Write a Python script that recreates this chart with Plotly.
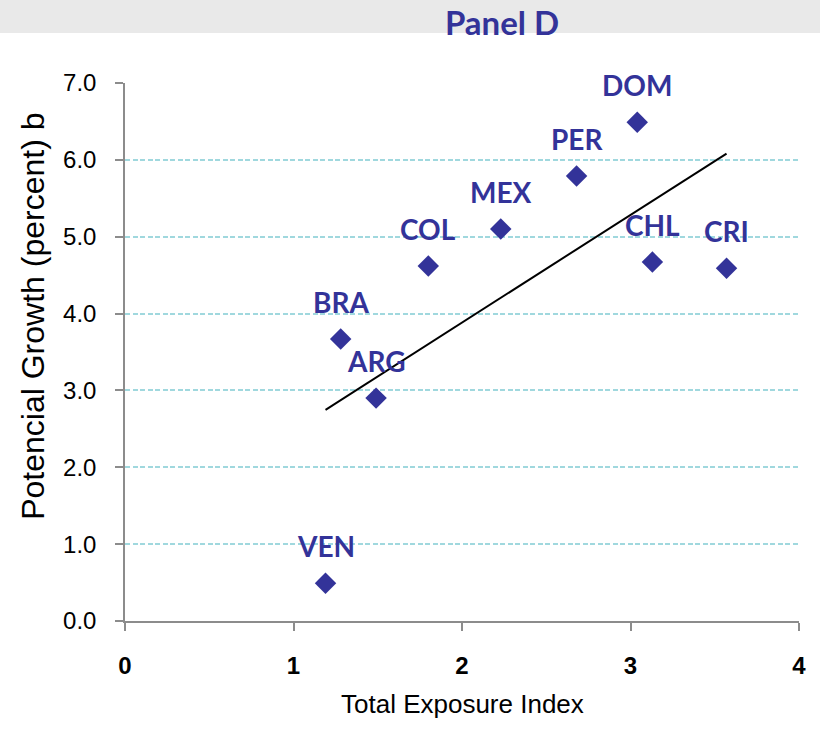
import numpy as np
import plotly.graph_objects as go

countries = ["VEN", "BRA", "ARG", "COL", "MEX", "PER", "DOM", "CHL", "CRI"]
exposure = [1.19, 1.28, 1.49, 1.80, 2.23, 2.68, 3.04, 3.13, 3.57]
growth = [0.49, 3.67, 2.90, 4.62, 5.10, 5.79, 6.49, 4.67, 4.59]
y_ticks = [0, 1, 2, 3, 4, 5, 6, 7]
x_ticks = [0, 1, 2, 3, 4]

BLUE = "#333399"
AXIS = "#8c8c8c"
GRID = "#a0d8de"

# linear trend line over the data range
slope, intercept = np.polyfit(exposure, growth, 1)
tx = [min(exposure), max(exposure)]
ty = [slope * v + intercept for v in tx]

fig = go.Figure()
fig.add_trace(go.Scatter(x=tx, y=ty, mode="lines",
                         line=dict(color="black", width=2), hoverinfo="skip",
                         showlegend=False))
fig.add_trace(go.Scatter(x=exposure, y=growth, mode="markers",
                         marker=dict(symbol="diamond", size=16.5, color=BLUE,
                                     line=dict(width=0)),
                         text=countries, showlegend=False))

annotations = []
for c, xv, yv in zip(countries, exposure, growth):
    annotations.append(dict(x=xv, y=yv, xref="x", yref="y", text=c,
                            showarrow=False, yanchor="middle", yshift=37,
                            font=dict(family="Lato, Open Sans, sans-serif",
                                      size=28, color=BLUE, weight="bold")))

# axis titles
annotations.append(dict(x=0.5, y=-0.155, xref="paper", yref="paper",
                        text="Total Exposure Index", showarrow=False,
                        xanchor="center", yanchor="middle",
                        font=dict(family="Liberation Sans, Arial, sans-serif",
                                  size=26, color="black")))
annotations.append(dict(x=-0.136, y=0.566, xref="paper", yref="paper",
                        text="Potencial Growth (percent) b", showarrow=False,
                        textangle=-90, xanchor="center", yanchor="middle",
                        font=dict(family="Liberation Sans, Arial, sans-serif",
                                  size=32, color="black")))

fig.update_layout(
    width=820, height=730,
    margin=dict(l=125, r=21, t=83, b=109),
    paper_bgcolor="white", plot_bgcolor="white",
    title=dict(text="Panel D", x=502 / 820, xanchor="center",
               y=1 - 23 / 730, yanchor="middle",
               font=dict(family="Lato, Open Sans, sans-serif", size=33,
                         color=BLUE, weight="bold")),
    shapes=[dict(type="rect", xref="paper", yref="paper",
                 x0=-0.5, x1=1.5, y0=1 + 50 / 538, y1=1.5,
                 fillcolor="#e9e9e9", line=dict(width=0), layer="below")],
    annotations=annotations,
    xaxis=dict(range=[0, 4], tickvals=x_ticks, showgrid=False, zeroline=False,
               showline=True, linecolor=AXIS, linewidth=1.5,
               ticks="outside", ticklen=8, tickcolor=AXIS, tickwidth=1.5,
               ticklabelstandoff=14,
               tickfont=dict(family="Liberation Sans, Arial, sans-serif",
                             size=24, color="black", weight="bold")),
    yaxis=dict(range=[0, 7], tickvals=y_ticks, tickformat=".1f",
               showgrid=True, gridcolor=GRID, griddash="5px,2.5px", gridwidth=1.6,
               zeroline=False, showline=True, linecolor=AXIS, linewidth=1.5,
               ticks="outside", ticklen=8, tickcolor=AXIS, tickwidth=1.5,
               ticklabelstandoff=14,
               tickfont=dict(family="Liberation Sans, Arial, sans-serif",
                             size=24, color="black")),
)

fig.write_html("out.html",
               config={"displayModeBar": False},
               post_script="document.body.style.margin='0';"
                           "document.body.style.overflow='hidden';")
